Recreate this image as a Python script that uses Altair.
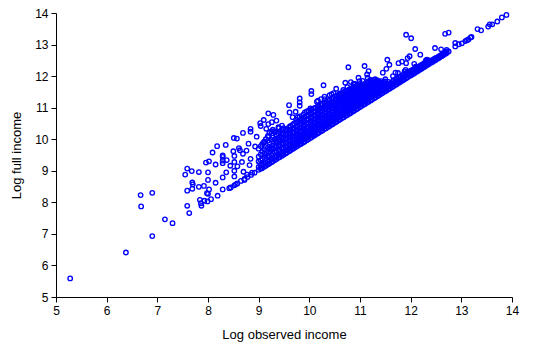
import altair as alt
import pandas as pd

# Scattered (sparse / outlying) observations: log observed income, log full income
sparse_x = [5.28, 6.38, 6.67, 6.68, 6.90, 6.90, 7.15, 7.30, 7.55, 7.59, 7.59, 7.59, 7.63, 7.68,
            7.69, 7.70, 7.69, 7.82, 7.82, 7.84, 7.86, 7.87, 7.92, 7.93, 7.96, 7.98, 7.99, 8.00,
            8.00, 8.02, 8.02, 8.00, 8.06, 8.09, 8.15, 8.15, 8.18, 8.19, 8.29, 8.29, 8.29, 8.29,
            8.29, 8.29, 8.35, 8.36, 8.37, 8.42, 8.44, 8.51, 8.50, 8.52, 8.52, 8.52, 8.52, 8.55,
            8.57, 8.58, 8.61, 8.63, 8.67, 8.69, 8.69, 8.70, 8.72, 8.76, 8.77, 8.80, 8.82, 8.84,
            8.84, 8.84, 8.87, 8.93, 8.96, 9.00, 9.03, 9.04, 9.05, 9.10, 9.15, 9.19, 9.19, 9.23,
            9.26, 9.29, 9.35, 9.39, 9.46,
            8.45, 8.52, 8.58, 8.65, 8.72, 8.78, 8.85, 8.92,
            9.10, 9.20, 9.30, 9.40, 9.35, 9.12, 9.25, 9.45,
            9.60, 9.61, 9.67, 9.73, 9.81, 9.81, 9.81, 9.85, 10.02, 10.04, 10.04, 10.15, 10.17,
            10.23, 10.28, 10.30, 10.44, 10.48, 10.53, 10.67, 10.71, 10.77, 10.82, 10.87, 10.97,
            10.99, 11.09, 11.14, 11.17, 11.20, 11.45, 11.52, 11.54, 11.58, 11.70, 11.76, 11.83,
            11.88, 11.91, 11.91, 11.94, 11.98, 12.01, 12.07, 12.09, 12.19, 12.32, 12.48, 12.68,
            12.75, 12.71, 12.75, 12.88, 12.88, 12.95, 13.01, 13.08, 13.11, 13.14, 13.18, 13.20,
            13.32, 13.39, 13.53, 13.56, 13.61, 13.71, 13.80, 13.89,
            10.30, 10.40, 10.60, 10.75, 10.90, 11.05, 11.15, 11.30, 11.50, 11.65, 11.75, 11.90,
            12.10, 12.30, 12.60]
sparse_y = [5.59, 6.41, 8.23, 7.87, 8.30, 6.93, 7.46, 7.34, 8.88, 9.07, 8.37, 7.89, 7.66, 8.99,
            8.63, 8.57, 8.43, 8.96, 8.49, 8.08, 7.97, 7.89, 8.52, 8.05, 9.26, 8.29, 8.03, 8.95,
            8.71, 9.30, 8.41, 8.27, 8.10, 9.58, 9.20, 8.62, 9.78, 8.21, 9.49, 9.44, 9.32, 9.24,
            8.79, 8.41, 9.82, 8.95, 9.34, 8.45, 9.16, 10.04, 9.62, 9.47, 9.28, 9.00, 8.82, 8.57,
            10.02, 9.14, 9.72, 9.65, 9.28, 10.20, 9.54, 8.97, 8.71, 9.64, 8.88, 9.86, 9.18, 10.33,
            10.24, 9.38, 8.94, 9.77, 10.08, 9.30, 10.51, 10.42, 9.07, 10.61, 10.33, 10.82, 10.48, 9.62,
            10.54, 10.77, 10.59, 10.38, 10.43,
            8.47, 8.54, 8.60, 8.68, 8.74, 8.80, 8.87, 8.94,
            9.90, 10.10, 10.25, 10.35, 9.90, 9.55, 9.70, 10.05,
            11.08, 10.85, 10.70, 10.87, 11.29, 11.17, 11.06, 10.66, 10.98, 11.53, 11.43, 11.19, 11.22,
            11.27, 11.71, 11.27, 11.43, 11.46, 11.60, 11.56, 11.79, 12.28, 11.81, 11.75, 11.95,
            11.84, 12.32, 12.05, 12.16, 11.88, 12.11, 12.23, 12.52, 12.36, 12.11, 12.41, 12.46,
            12.15, 12.41, 13.31, 12.57, 12.63, 13.20, 12.39, 12.86, 12.68, 12.52, 12.89, 13.34,
            13.38, 12.83, 12.78, 12.94, 13.05, 13.01, 13.04, 13.11, 13.14, 13.16, 13.22, 13.24,
            13.49, 13.45, 13.57, 13.64, 13.64, 13.73, 13.86, 13.94,
            11.35, 11.40, 11.45, 11.65, 11.75, 11.85, 11.95, 11.90, 11.90, 12.00, 12.10, 12.20,
            12.30, 12.50, 12.85]

# Dense band of observations, read column by column (x) with the full-income values seen there
band_x = [9.00, 9.07, 9.14, 9.21, 9.28, 9.35, 9.42, 9.49, 9.56, 9.63, 9.70, 9.77, 9.84, 9.91,
          9.98, 10.05, 10.12, 10.19, 10.26, 10.33, 10.40, 10.47, 10.54, 10.61, 10.68, 10.75,
          10.82, 10.89, 10.96, 11.03, 11.10, 11.17, 11.24, 11.31, 11.38, 11.45, 11.52, 11.59,
          11.66, 11.73, 11.80, 11.87, 11.94, 12.01, 12.08, 12.15, 12.22, 12.29, 12.36, 12.43,
          12.50, 12.57, 12.64, 12.71,
          9.04, 9.11, 9.18, 9.25, 9.32, 9.39, 9.46, 9.53, 9.60, 9.67, 9.74, 9.81, 9.88, 9.95,
          10.02, 10.09, 10.16, 10.23, 10.30, 10.37, 10.44, 10.51, 10.58, 10.65, 10.72, 10.79,
          10.86, 10.93, 11.00, 11.07, 11.14, 11.21, 11.28, 11.35, 11.42, 11.49, 11.56, 11.63,
          11.70, 11.77, 11.84, 11.91, 11.98, 12.05, 12.12, 12.19, 12.26, 12.33, 12.40, 12.47,
          12.54, 12.61, 12.68]
band_y = [
    [9.03, 9.12, 9.30, 9.45, 9.70],
    [9.09, 9.20, 9.38, 9.60, 9.85],
    [9.16, 9.25, 9.50, 9.75, 10.00],
    [9.23, 9.33, 9.45, 9.68, 9.90, 10.20],
    [9.30, 9.40, 9.55, 9.80, 10.05, 10.30],
    [9.37, 9.47, 9.62, 9.78, 9.95, 10.15],
    [9.44, 9.53, 9.66, 9.82, 10.00, 10.22],
    [9.51, 9.60, 9.72, 9.86, 10.02, 10.18, 10.35],
    [9.58, 9.67, 9.78, 9.90, 10.03, 10.15, 10.30],
    [9.65, 9.74, 9.84, 9.95, 10.06, 10.18, 10.30, 10.42],
    [9.72, 9.80, 9.90, 10.00, 10.10, 10.22, 10.35, 10.50],
    [9.79, 9.88, 9.97, 10.07, 10.18, 10.30, 10.42, 10.56, 10.70],
    [9.86, 9.95, 10.05, 10.15, 10.26, 10.38, 10.50, 10.62],
    [9.93, 10.02, 10.12, 10.22, 10.33, 10.45, 10.57, 10.70, 10.85],
    [10.00, 10.09, 10.19, 10.29, 10.40, 10.52, 10.64, 10.76, 10.90],
    [10.07, 10.16, 10.26, 10.36, 10.47, 10.58, 10.70, 10.82, 10.95],
    [10.14, 10.23, 10.33, 10.43, 10.54, 10.65, 10.77, 10.88, 11.00],
    [10.21, 10.30, 10.40, 10.50, 10.61, 10.72, 10.83, 10.95, 11.05],
    [10.28, 10.37, 10.47, 10.57, 10.68, 10.79, 10.90, 11.00, 11.12],
    [10.35, 10.44, 10.54, 10.64, 10.75, 10.86, 10.97, 11.08, 11.18],
    [10.42, 10.51, 10.61, 10.71, 10.82, 10.93, 11.04, 11.14, 11.25],
    [10.49, 10.58, 10.68, 10.78, 10.89, 11.00, 11.10, 11.20, 11.32],
    [10.56, 10.65, 10.75, 10.85, 10.95, 11.06, 11.16, 11.27, 11.38],
    [10.63, 10.72, 10.82, 10.92, 11.02, 11.12, 11.23, 11.33, 11.42],
    [10.70, 10.79, 10.89, 10.99, 11.09, 11.19, 11.30, 11.40, 11.50],
    [10.77, 10.86, 10.96, 11.06, 11.16, 11.26, 11.36, 11.46, 11.55],
    [10.84, 10.93, 11.03, 11.13, 11.23, 11.33, 11.43, 11.52, 11.60],
    [10.91, 11.00, 11.10, 11.20, 11.30, 11.40, 11.50, 11.58, 11.66],
    [10.98, 11.07, 11.17, 11.27, 11.37, 11.47, 11.56, 11.64, 11.72],
    [11.05, 11.14, 11.24, 11.34, 11.44, 11.53, 11.62, 11.70],
    [11.12, 11.21, 11.31, 11.41, 11.50, 11.59, 11.68, 11.76],
    [11.19, 11.28, 11.38, 11.47, 11.56, 11.65, 11.74, 11.82],
    [11.26, 11.35, 11.44, 11.53, 11.62, 11.70, 11.78, 11.86],
    [11.33, 11.42, 11.51, 11.60, 11.68, 11.76, 11.84],
    [11.40, 11.49, 11.58, 11.66, 11.74, 11.82],
    [11.47, 11.56, 11.64, 11.72, 11.80],
    [11.54, 11.62, 11.70, 11.78],
    [11.61, 11.69, 11.77],
    [11.68, 11.76, 11.86],
    [11.75, 11.83, 11.93],
    [11.82, 11.90, 11.99],
    [11.89, 11.97, 12.06],
    [11.96, 12.04, 12.12],
    [12.03, 12.10, 12.18],
    [12.10, 12.17, 12.24],
    [12.17, 12.24, 12.30],
    [12.24, 12.30, 12.36],
    [12.31, 12.37, 12.43],
    [12.38, 12.44, 12.50],
    [12.45, 12.51],
    [12.52, 12.58],
    [12.59, 12.64],
    [12.66, 12.71],
    [12.73, 12.78],
    [9.07, 9.16, 9.34, 9.52, 9.78],
    [9.13, 9.22, 9.44, 9.68, 9.92],
    [9.20, 9.29, 9.48, 9.72, 9.95, 10.10],
    [9.27, 9.37, 9.50, 9.74, 9.98, 10.25],
    [9.34, 9.44, 9.58, 9.79, 10.00, 10.22],
    [9.41, 9.50, 9.64, 9.80, 9.98, 10.18],
    [9.48, 9.57, 9.69, 9.84, 10.01, 10.20, 10.30],
    [9.55, 9.64, 9.75, 9.88, 10.02, 10.16, 10.32],
    [9.62, 9.70, 9.81, 9.93, 10.05, 10.17, 10.30, 10.38],
    [9.69, 9.77, 9.87, 9.98, 10.08, 10.20, 10.32, 10.46],
    [9.76, 9.84, 9.94, 10.04, 10.14, 10.26, 10.38, 10.53, 10.62],
    [9.83, 9.92, 10.01, 10.11, 10.22, 10.34, 10.46, 10.59, 10.72],
    [9.90, 9.99, 10.09, 10.19, 10.30, 10.42, 10.54, 10.66, 10.78],
    [9.97, 10.06, 10.16, 10.26, 10.37, 10.49, 10.61, 10.73, 10.88],
    [10.04, 10.13, 10.23, 10.33, 10.44, 10.55, 10.67, 10.79, 10.92],
    [10.11, 10.20, 10.30, 10.40, 10.51, 10.62, 10.74, 10.85, 10.98],
    [10.18, 10.27, 10.37, 10.47, 10.58, 10.69, 10.80, 10.92, 11.03],
    [10.25, 10.34, 10.44, 10.54, 10.65, 10.76, 10.87, 10.98, 11.08],
    [10.32, 10.41, 10.51, 10.61, 10.72, 10.83, 10.94, 11.04, 11.15],
    [10.39, 10.48, 10.58, 10.68, 10.79, 10.90, 11.01, 11.11, 11.22],
    [10.46, 10.55, 10.65, 10.75, 10.86, 10.97, 11.07, 11.17, 11.28],
    [10.53, 10.62, 10.72, 10.82, 10.92, 11.03, 11.13, 11.24, 11.35],
    [10.60, 10.69, 10.79, 10.89, 10.99, 11.09, 11.20, 11.30, 11.40],
    [10.67, 10.76, 10.86, 10.96, 11.06, 11.16, 11.27, 11.37, 11.46],
    [10.74, 10.83, 10.93, 11.03, 11.13, 11.23, 11.33, 11.43, 11.52],
    [10.81, 10.90, 11.00, 11.10, 11.20, 11.30, 11.40, 11.49, 11.58],
    [10.88, 10.97, 11.07, 11.17, 11.27, 11.37, 11.46, 11.55, 11.63],
    [10.95, 11.04, 11.14, 11.24, 11.34, 11.44, 11.53, 11.61, 11.69],
    [11.02, 11.11, 11.21, 11.31, 11.41, 11.50, 11.59, 11.67, 11.75],
    [11.09, 11.18, 11.28, 11.38, 11.47, 11.56, 11.65, 11.73],
    [11.16, 11.25, 11.35, 11.44, 11.53, 11.62, 11.71, 11.79],
    [11.23, 11.32, 11.41, 11.50, 11.59, 11.68, 11.76, 11.84],
    [11.30, 11.39, 11.48, 11.57, 11.65, 11.73, 11.81, 11.88],
    [11.37, 11.46, 11.55, 11.63, 11.71, 11.79, 11.86],
    [11.44, 11.53, 11.61, 11.69, 11.77, 11.84],
    [11.51, 11.59, 11.67, 11.75, 11.83],
    [11.58, 11.66, 11.74, 11.82],
    [11.65, 11.73, 11.81],
    [11.72, 11.80, 11.89],
    [11.79, 11.87, 11.96],
    [11.86, 11.94, 12.03],
    [11.93, 12.01, 12.09],
    [12.00, 12.07, 12.15],
    [12.07, 12.14, 12.21],
    [12.14, 12.21, 12.27],
    [12.21, 12.27, 12.33],
    [12.28, 12.34, 12.40],
    [12.35, 12.41, 12.47],
    [12.42, 12.48],
    [12.49, 12.55],
    [12.56, 12.61],
    [12.63, 12.68],
    [12.70, 12.75],
]

xs = list(sparse_x)
ys = list(sparse_y)
for bx, col in zip(band_x, band_y):
    for by in col:
        xs.append(bx)
        ys.append(by)

df = pd.DataFrame({"obs": xs, "full": ys})

FONT = "Liberation Sans"

chart = alt.Chart(df).mark_point(
    shape="circle", filled=False, color="#0000ff", size=20, strokeWidth=1.35, opacity=1
).encode(
    x=alt.X("obs:Q", scale=alt.Scale(domain=[5, 14], nice=False, zero=False),
            axis=alt.Axis(title="Log observed income", values=list(range(5, 15)), grid=False,
                          tickSize=5, labelPadding=3, titlePadding=12, domainColor="#000000",
                          tickColor="#000000", labelColor="#000000", titleColor="#000000",
                          labelFontSize=12, titleFontSize=13, titleFontWeight="normal",
                          labelFont=FONT, titleFont=FONT, labelFlush=False)),
    y=alt.Y("full:Q", scale=alt.Scale(domain=[5, 14], nice=False, zero=False),
            axis=alt.Axis(title="Log full income", values=list(range(5, 15)), grid=False,
                          tickSize=5, labelPadding=3, titlePadding=11, domainColor="#000000",
                          tickColor="#000000", labelColor="#000000", titleColor="#000000",
                          labelFontSize=12, titleFontSize=13, titleFontWeight="normal",
                          labelFont=FONT, titleFont=FONT, labelFlush=False)),
).properties(
    width=456, height=284,
    autosize=alt.AutoSizeParams(type="none"),
    padding={"left": 48, "top": 5, "right": 20, "bottom": 50},
).configure_view(stroke=None)

chart.save("out.html", embed_options={"renderer": "svg", "actions": False})
